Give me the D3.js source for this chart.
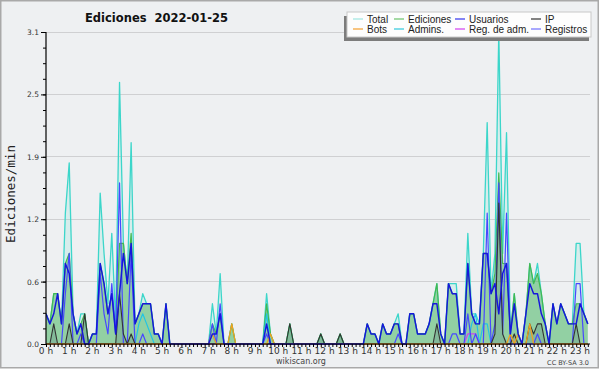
<!DOCTYPE html>
<html><head><meta charset="utf-8">
<script src="https://cdn.jsdelivr.net/npm/d3@7"></script>
<style>body{margin:0;background:#fff}svg{display:block}</style>
</head><body><svg id="c" width="600" height="370"></svg>
<script>
// ---- data (values per 10-minute slot, edits/min) ----
const hourLabels = ["0 h","1 h","2 h","3 h","4 h","5 h","6 h","7 h","8 h","9 h","10 h","11 h","12 h","13 h","14 h","15 h","16 h","17 h","18 h","19 h","20 h","21 h","22 h","23 h"];
const yTickLabels = ["0.0","0.6","1.2","1.9","2.5","3.1"];
const seriesNames = ["Total","Ediciones","Usuarios","IP","Bots","Admins.","Reg. de adm.","Registros"];

const total = [
 .3,.2,.5,.5,.2,1.3,  1.8,.3,.1,.3,.3,0,  .1,.1,1.5,.9,.4,1.1,  .2,2.6,1.0,.6,2.0,.2,
 .3,.5,.4,.4,.1,.1,  0,.4,0,0,0,0,  0,0,0,0,0,0,  0,.4,.1,.7,0,0,
 .2,0,0,0,0,0,  0,0,0,.5,.1,0,  0,0,0,.2,0,0,  0,0,0,0,0,.1,
 0,0,0,0,.1,0,  0,0,0,0,0,.2,  .1,.1,0,.2,.1,.1,  .2,.3,0,0,.3,.3,
 .1,.1,.1,.2,.4,.6,  .1,0,.6,.6,.6,.1,  .1,1.1,.3,.3,.2,.9,  2.2,.5,.9,3.1,.9,2.1,
 .1,.5,.1,0,.3,.8,  .6,.8,.5,.2,0,.4,  .2,.4,.3,.2,.2,1.0,  1.0,.3,.2];
const ediciones = [
 .3,.2,.5,.5,.2,.8,  .9,.3,.1,.2,.3,0,  .1,.1,.8,.6,.3,.5,  .1,1.0,1.0,.6,1.1,.2,
 .3,.4,.4,.4,.1,.1,  0,.4,0,0,0,0,  0,0,0,0,0,0,  0,.2,.1,.3,0,0,
 .2,0,0,0,0,0,  0,0,0,.4,.1,0,  0,0,0,.2,0,0,  0,0,0,0,0,.1,
 0,0,0,0,.1,0,  0,0,0,0,0,.2,  .1,.1,0,.2,.1,.1,  .2,.2,0,0,.3,.3,
 .1,.1,.1,.2,.4,.6,  .1,0,.6,.5,.5,.1,  .1,.8,.3,.2,.2,.9,  .9,.5,.7,1.7,.8,.8,
 .1,.5,.1,0,.3,.8,  .6,.7,.5,.2,0,.4,  .2,.4,.3,.2,.2,.4,  .4,.3,.2];
const usuarios = [
 .3,.2,.3,.5,.2,.8,  .7,.3,.1,.2,0,0,  .1,.1,.8,.6,.3,.5,  .1,.5,.9,.6,1.0,.2,
 .3,.4,.4,.4,.1,.1,  0,.4,0,0,0,0,  0,0,0,0,0,0,  0,.1,.1,.3,0,0,
 0,0,0,0,0,0,  0,0,0,.2,0,0,  0,0,0,0,0,0,  0,0,0,0,0,0,
 0,0,0,0,0,0,  0,0,0,0,0,.2,  .1,.1,0,.2,.1,.1,  .2,.2,0,0,.3,.3,
 .1,.1,.1,.2,.4,.4,  .1,0,.6,.5,.5,.1,  .1,.8,.3,.2,.2,.9,  .9,.5,.6,.3,.7,.8,
 .1,.4,.1,0,.3,.6,  .5,.5,.3,.2,0,.4,  .2,.4,.3,.2,.2,.2,  .4,.3,.2];
const ip = [
 0,0,.2,0,0,0,  .2,0,0,0,.3,0,  0,0,0,0,0,0,  0,.5,.1,0,.1,0,
 0,0,0,0,0,0,  0,0,0,0,0,0,  0,0,0,0,0,0,  0,0,0,0,0,0,
 0,0,0,0,0,0,  0,0,0,0,0,0,  0,0,0,.2,0,0,  0,0,0,0,0,.1,
 0,0,0,0,.1,0,  0,0,0,0,0,0,  0,0,0,0,0,0,  0,0,0,0,0,0,
 0,0,0,0,0,.2,  0,0,0,0,0,0,  0,0,0,0,0,0,  0,0,.1,1.4,.1,0,
 0,.1,0,0,0,.2,  .1,.2,.2,0,0,0,  0,0,0,0,0,.2,  0,0,0];
const bots = [
 0,0,0,0,0,0,  0,0,0,0,0,0,  0,0,0,0,0,0,  0,0,0,0,0,0,
 0,0,0,0,0,0,  0,0,0,0,0,0,  0,0,0,0,0,0,  0,.1,0,0,0,0,
 .2,0,0,0,0,0,  0,0,0,0,.1,0,  0,0,0,0,0,0,  0,0,0,0,0,0,
 0,0,0,0,0,0,  0,0,0,0,0,0,  0,0,0,0,0,0,  0,0,0,0,0,0,
 0,0,0,0,0,0,  0,0,0,0,0,0,  0,0,0,0,0,0,  0,0,0,0,0,0,
 .1,0,.1,0,0,.2,  0,0,0,0,0,0,  0,0,0,0,0,0,  0,0,0];
const admins = [
 0,0,0,0,0,0,  0,0,0,0,0,0,  0,0,0,0,0,0,  0,0,0,0,0,0,
 .2,.3,.2,.1,0,0,  0,0,0,0,0,0,  0,0,0,0,0,0,  0,.1,0,0,0,0,
 0,0,0,0,0,0,  0,0,0,.3,0,0,  0,0,0,0,0,0,  0,0,0,0,0,0,
 0,0,0,0,0,0,  0,0,0,0,0,0,  0,0,0,0,0,0,  0,0,0,0,0,0,
 0,0,0,0,0,0,  0,0,0,0,0,0,  0,0,.2,.3,0,.2,  .2,0,0,0,0,0,
 0,0,0,0,0,0,  0,0,0,0,0,0,  0,0,0,0,0,0,  0,0,0];
const regAdm = [
 0,0,0,0,0,0,  0,0,0,0,0,0,  0,0,0,0,0,0,  0,0,0,0,0,0,
 0,0,0,0,0,0,  0,0,0,0,0,0,  0,0,0,0,0,0,  0,0,0,0,0,0,
 0,0,0,0,0,0,  0,0,0,0,0,0,  0,0,0,0,0,0,  0,0,0,0,0,0,
 0,0,0,0,0,0,  0,0,0,0,0,0,  0,0,0,0,0,0,  0,0,0,0,0,0,
 0,0,0,0,0,0,  0,0,0,0,0,0,  0,.1,.1,.1,0,0,  0,0,0,0,0,0,
 0,0,0,0,0,0,  0,0,0,0,0,0,  0,0,0,0,0,0,  0,0,0];
const registros = [
 0,0,0,0,0,.5,  .9,0,0,.1,0,0,  0,0,.7,.3,.1,.6,  .1,1.6,0,0,.9,0,
 0,.1,0,0,0,0,  0,0,0,0,0,0,  0,0,0,0,0,0,  0,.2,0,.4,0,0,
 0,0,0,0,0,0,  0,0,0,.1,0,0,  0,0,0,0,0,0,  0,0,0,0,0,0,
 0,0,0,0,0,0,  0,0,0,0,0,0,  0,0,0,0,0,0,  0,.1,0,0,0,0,
 0,0,0,0,0,0,  0,0,0,.1,.1,0,  0,.3,0,.1,0,0,  1.3,0,.2,1.6,.1,1.3,
 0,0,0,0,0,0,  0,.1,0,0,0,0,  0,0,0,0,0,.6,  .6,0,0];

// ---- drawing ----
const svg = d3.select("#c");
const L = 46, R = 590, T = 32, B = 344;
const x = d3.scaleLinear().domain([0, 144]).range([L, L + 144 * 3.87]);
const y = d3.scaleLinear().domain([0, 3.1]).range([B, T]);

svg.append("rect").attr("x",0.75).attr("y",0.75).attr("width",597.5).attr("height",367)
  .attr("fill","#eef0f2").attr("stroke","#a9a9a9").attr("stroke-width",1.5);

const majors = d3.range(6).map(k => 3.1 * k / 5);
const minors = d3.range(21).map(k => 3.1 * k / 20);

// grid
svg.append("g").selectAll("line").data(majors.slice(1)).join("line")
  .attr("x1", L).attr("x2", R).attr("y1", d => y(d)).attr("y2", d => y(d))
  .attr("stroke", "#cfd0d2").attr("stroke-width", 1).attr("shape-rendering","crispEdges");

svg.append("defs").append("clipPath").attr("id","clip")
  .append("rect").attr("x", L).attr("y", 20).attr("width", R - L).attr("height", B - 20 + 1);

const g = svg.append("g").attr("clip-path","url(#clip)");
const line = d3.line().x((d,i) => x(i)).y(d => y(d));
const area = d3.area().x((d,i) => x(i)).y0(y(0)).y1(d => y(d));

g.append("path").datum(total).attr("d", area).attr("fill","rgba(60,214,200,0.13)");
g.append("path").datum(ediciones).attr("d", area).attr("fill","rgba(60,170,70,0.44)");
g.append("path").datum(ip).attr("d", area).attr("fill","rgba(40,50,90,0.14)");

const lines = [
  [total, "#3cd6ca", 1.3],
  [ediciones, "#44b850", 1.2],
  [admins, "#22c4e4", 1.2],
  [regAdm, "#cc44ee", 1.2],
  [registros, "#4848ff", 1.2],
  [ip, "#333333", 1.1],
  [bots, "#f0a020", 1.3],
  [usuarios, "#1616dc", 1.45]
];
lines.forEach(([d, c, w]) => {
  g.append("path").datum(d).attr("d", line).attr("fill","none")
   .attr("stroke", c).attr("stroke-width", w).attr("stroke-linejoin","round");
});

// y axis
const yMinor = d3.axisLeft(y).tickValues(minors).tickSize(3).tickFormat("");
svg.append("g").attr("transform",`translate(${L},0)`).call(yMinor)
  .call(s => s.select(".domain").remove());
const yAxis = d3.axisLeft(y).tickValues(majors).tickSize(5).tickPadding(2)
  .tickFormat((d,i) => yTickLabels[i]);
svg.append("g").attr("transform",`translate(${L},0)`).call(yAxis)
  .call(s => s.select(".domain").remove())
  .call(s => s.selectAll("text").attr("font-family","DejaVu Sans").attr("font-size","7.5px").attr("fill","#333"));
svg.append("line").attr("x1",L).attr("x2",L).attr("y1",T).attr("y2",B)
  .attr("stroke","#000").attr("stroke-width",1.2);

// x axis
const xAxis = d3.axisBottom(x).tickValues(d3.range(0, 141)).tickSize(3).tickFormat("");
svg.append("g").attr("transform",`translate(0,${B})`).call(xAxis)
  .call(s => s.select(".domain").remove());
svg.append("line").attr("x1",L).attr("x2",R).attr("y1",B).attr("y2",B)
  .attr("stroke","#000").attr("stroke-width",1.2);
svg.append("g").selectAll("text").data(hourLabels).join("text")
  .attr("x", (d,i) => x(i * 6)).attr("y", 354)
  .attr("text-anchor","middle").attr("font-family","DejaVu Sans").attr("font-size","9px")
  .attr("fill","#333").text(d => d);

// titles
svg.append("text").attr("x",85).attr("y",21.5).attr("font-family","DejaVu Sans")
  .attr("font-weight","bold").attr("font-size","11.5px").attr("fill","#111")
  .attr("xml:space","preserve").style("white-space","pre").text("Ediciones  2022-01-25");
svg.append("text").attr("transform","translate(15,194) rotate(-90)")
  .attr("text-anchor","middle").attr("font-family","DejaVu Sans Mono").attr("font-size","12.5px")
  .attr("fill","#222").text("Ediciones/min");
svg.append("text").attr("x",301).attr("y",363.5).attr("text-anchor","middle")
  .attr("font-family","DejaVu Sans").attr("font-size","8px").attr("fill","#444").text("wikiscan.org");
svg.append("text").attr("x",589).attr("y",365).attr("text-anchor","end")
  .attr("font-family","DejaVu Sans").attr("font-size","6.5px").attr("fill","#444").text("CC BY-SA 3.0");

// legend
const legColors = ["#9ee6e2","#6cc46c","#3434ee","#333333","#f5a030","#30c8dc","#d040f0","#7070ff"];
const colX = [367, 408, 469, 545];
const rowY = [19, 29];
svg.append("rect").attr("x",344).attr("y",16).attr("width",245).attr("height",25).attr("fill","#7c7c7c");
svg.append("rect").attr("x",347).attr("y",12).attr("width",244).attr("height",25)
  .attr("fill","#fdfdfd").attr("stroke","#c8c8c8").attr("stroke-width",1);
const leg = svg.append("g");
seriesNames.forEach((n, k) => {
  const cx = colX[k % 4], cy = rowY[Math.floor(k / 4)];
  leg.append("line").attr("x1", cx - 14).attr("x2", cx - 4).attr("y1", cy).attr("y2", cy)
    .attr("stroke", legColors[k]).attr("stroke-width", 1.2);
  leg.append("text").attr("x", cx).attr("y", cy + 3.5).attr("font-family","Liberation Sans")
    .attr("font-size","10px").attr("fill","#222").text(n);
});
</script>
</body></html>
